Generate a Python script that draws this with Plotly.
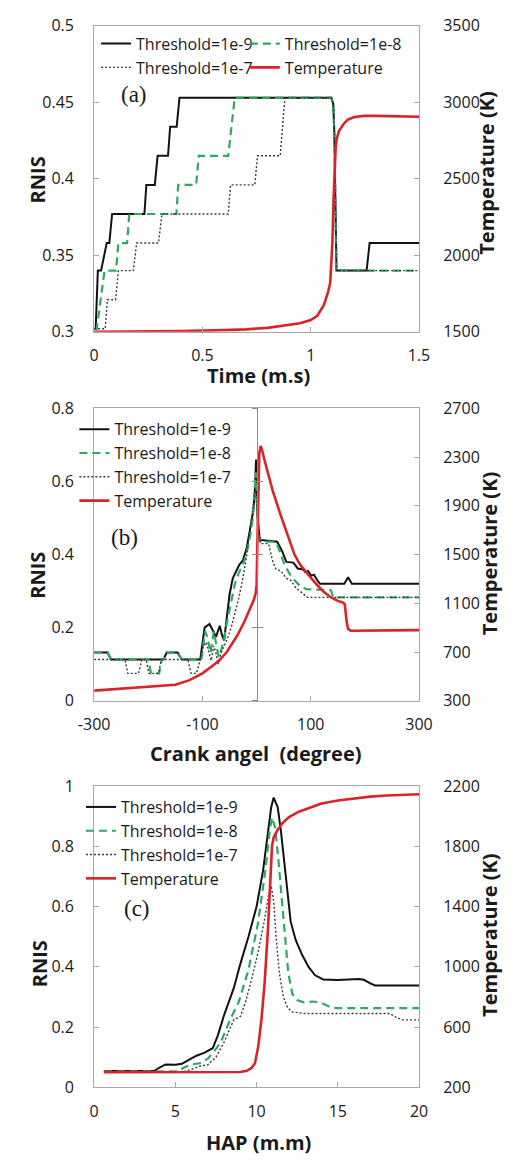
import plotly.graph_objects as go

# ---------------- Panel (a): Time (m.s) ----------------
a_t9 = [0, 0.007, 0.017, 0.032, 0.058, 0.07, 0.083, 0.232, 0.241, 0.28, 0.293, 0.341, 0.351, 0.381, 0.394, 1.094, 1.104, 1.109, 1.119, 1.258, 1.272, 1.5]
a_r9 = [0.302, 0.302, 0.340, 0.340, 0.358, 0.358, 0.377, 0.377, 0.396, 0.396, 0.415, 0.415, 0.434, 0.434, 0.453, 0.453, 0.449, 0.43, 0.340, 0.340, 0.358, 0.358]
a_t8 = [0, 0.012, 0.048, 0.101, 0.112, 0.152, 0.162, 0.38, 0.388, 0.471, 0.483, 0.619, 0.649, 1.096, 1.104, 1.109, 1.119, 1.5]
a_r8 = [0.302, 0.302, 0.340, 0.340, 0.358, 0.358, 0.377, 0.377, 0.396, 0.396, 0.415, 0.415, 0.453, 0.453, 0.449, 0.43, 0.340, 0.340]
a_t7 = [0, 0.051, 0.061, 0.099, 0.112, 0.181, 0.196, 0.297, 0.313, 0.619, 0.630, 0.742, 0.754, 0.859, 0.881, 1.096, 1.104, 1.109, 1.119, 1.5]
a_r7 = [0.302, 0.302, 0.321, 0.321, 0.340, 0.340, 0.358, 0.358, 0.377, 0.377, 0.396, 0.396, 0.415, 0.415, 0.453, 0.453, 0.449, 0.43, 0.340, 0.340]
a_tT = [0, 0.2, 0.4, 0.6, 0.7, 0.8, 0.9, 0.95, 1.0, 1.03, 1.06, 1.08, 1.09, 1.10, 1.105, 1.11, 1.115, 1.12, 1.13, 1.15, 1.17, 1.2, 1.25, 1.3, 1.4, 1.5]
a_T = [1500, 1502, 1505, 1511, 1516, 1526, 1543, 1556, 1577, 1605, 1673, 1760, 1820, 2080, 2350, 2600, 2700, 2760, 2810, 2855, 2885, 2903, 2912, 2911, 2908, 2905]

# ---------------- Panel (b): Crank angle (degree) ----------------
b_x9 = [-300, -275, -269, -172, -166, -146, -138, -104, -96, -87, -80, -75, -68, -64, -60, -55, -50, -44, -38, -32, -25, -18, -12, -6, -3, -1, 2, 6, 38, 47, 55, 68, 76, 85, 90, 95, 101, 106, 112, 117, 162, 169, 176, 300]
b_r9 = [0.132, 0.132, 0.113, 0.113, 0.132, 0.132, 0.113, 0.113, 0.2, 0.21, 0.19, 0.175, 0.205, 0.18, 0.165, 0.23, 0.29, 0.335, 0.355, 0.372, 0.385, 0.42, 0.47, 0.52, 0.58, 0.66, 0.5, 0.44, 0.435, 0.41, 0.38, 0.378, 0.362, 0.36, 0.352, 0.355, 0.342, 0.345, 0.33, 0.32, 0.32, 0.338, 0.32, 0.32]
b_x8 = [-300, -275, -269, -200, -195, -180, -175, -172, -166, -146, -138, -102, -95, -90, -85, -79, -74, -70, -65, -60, -54, -47, -40, -33, -26, -19, -12, -7, -3, -1.5, 1, 4, 8, 36, 45, 52, 62, 70, 80, 92, 137, 142, 300]
b_r8 = [0.132, 0.132, 0.113, 0.113, 0.075, 0.075, 0.113, 0.113, 0.132, 0.132, 0.113, 0.113, 0.19, 0.17, 0.13, 0.19, 0.15, 0.12, 0.14, 0.17, 0.22, 0.27, 0.32, 0.35, 0.37, 0.40, 0.45, 0.5, 0.58, 0.625, 0.52, 0.44, 0.435, 0.435, 0.40, 0.37, 0.345, 0.33, 0.315, 0.305, 0.303, 0.283, 0.283]
b_x7 = [-300, -243, -238, -218, -212, -204, -199, -181, -176, -127, -121, -111, -104, -98, -93, -88, -84, -79, -75, -71, -66, -60, -54, -47, -40, -33, -26, -19, -12, -6, -2, 1, 4, 8, 22, 30, 36, 45, 55, 63, 72, 80, 88, 94, 300]
b_r7 = [0.113, 0.113, 0.075, 0.075, 0.113, 0.113, 0.075, 0.075, 0.113, 0.113, 0.075, 0.075, 0.113, 0.15, 0.16, 0.13, 0.11, 0.15, 0.13, 0.10, 0.13, 0.15, 0.17, 0.2, 0.24, 0.28, 0.33, 0.39, 0.47, 0.53, 0.58, 0.52, 0.45, 0.43, 0.43, 0.38, 0.36, 0.355, 0.335, 0.33, 0.31, 0.30, 0.29, 0.283, 0.283]
b_xT = [-300, -250, -200, -150, -125, -100, -85, -70, -55, -45, -35, -22, -15, -8, -5, -1.5, 0, 1.5, 3, 5, 7.5, 10, 15, 20, 30, 44, 60, 70, 80, 90, 100, 114, 125, 137, 150, 160, 163, 166, 169, 174, 200, 250, 300]
b_T = [383, 398, 413, 431, 467, 525, 575, 625, 700, 767, 840, 955, 1030, 1090, 1129, 1186, 1250, 1600, 2100, 2330, 2391, 2360, 2270, 2180, 2020, 1830, 1620, 1500, 1420, 1360, 1310, 1240, 1190, 1150, 1120, 1105, 1090, 960, 890, 875, 876, 878, 880]
b_xtickvals = [-300, -100, 100, 300]
b_xticktext = ["-300", "-100", "100", "300"]

# ---------------- Panel (c): HAP (m.m) ----------------
c_x9 = [0.6, 3.7, 4.0, 4.4, 5.0, 5.4, 5.8, 6.3, 6.8, 7.3, 7.6, 8.0, 8.6, 9.0, 9.5, 10.0, 10.4, 10.7, 10.9, 11.05, 11.3, 11.5, 11.7, 11.9, 12.1, 12.4, 12.8, 13.2, 13.6, 14.1, 15.0, 16.3, 16.6, 17.0, 17.3, 18.0, 20.0]
c_r9 = [0.054, 0.054, 0.065, 0.076, 0.075, 0.078, 0.09, 0.105, 0.115, 0.13, 0.17, 0.24, 0.33, 0.41, 0.50, 0.60, 0.72, 0.85, 0.93, 0.962, 0.93, 0.85, 0.75, 0.65, 0.55, 0.49, 0.44, 0.40, 0.372, 0.358, 0.356, 0.36, 0.357, 0.345, 0.338, 0.338, 0.338]
c_x8 = [0.6, 5.2, 5.5, 6.0, 6.5, 7.0, 7.4, 7.8, 8.4, 8.9, 9.5, 10.08, 10.56, 10.8, 10.95, 11.15, 11.35, 11.55, 11.75, 11.95, 12.2, 12.5, 12.9, 13.5, 14.0, 14.6, 15.0, 20.0]
c_r8 = [0.053, 0.053, 0.065, 0.076, 0.08, 0.095, 0.12, 0.15, 0.228, 0.283, 0.39, 0.543, 0.728, 0.85, 0.897, 0.86, 0.75, 0.63, 0.5, 0.38, 0.31, 0.29, 0.282, 0.285, 0.28, 0.265, 0.263, 0.263]
c_x7 = [0.6, 5.5, 6.0, 6.5, 7.0, 7.5, 8.0, 8.4, 8.6, 9.0, 9.3, 9.7, 10.1, 10.5, 10.75, 10.9, 11.05, 11.2, 11.4, 11.65, 11.9, 12.2, 12.6, 13.0, 18.2, 18.6, 19.0, 20.0]
c_r7 = [0.052, 0.052, 0.06, 0.07, 0.075, 0.1, 0.15, 0.2, 0.225, 0.235, 0.28, 0.36, 0.45, 0.56, 0.64, 0.668, 0.62, 0.5, 0.38, 0.3, 0.265, 0.25, 0.247, 0.245, 0.245, 0.232, 0.224, 0.224]
c_xT = [0.6, 5, 8, 9.0, 9.4, 9.7, 9.9, 10.1, 10.3, 10.5, 10.7, 10.85, 10.95, 11.05, 11.3, 11.6, 12.0, 12.6, 13.3, 14.0, 15.0, 16.0, 17.0, 18.0, 19.0, 20.0]
c_T = [300, 300, 300, 302, 310, 330, 360, 470, 650, 900, 1250, 1600, 1800, 1860, 1910, 1955, 1995, 2030, 2060, 2085, 2105, 2120, 2130, 2138, 2143, 2146]

names = ["Threshold=1e-9", "Threshold=1e-8", "Threshold=1e-7", "Temperature"]

# ---------------- styling ----------------
W, H = 514, 1168
BLACK = "#111111"
GREEN = "#2fa862"
DOT = "#3a3a3a"
RED = "#d9232a"
FRAME = "#a8a8a8"
TXT = "#1a1a1a"
FONT = "Open Sans"

def X(p):
    return p / W

def Y(p):
    return 1 - p / H

xdom = [X(83), X(428)]
doms = {"a": [Y(327), Y(15)], "b": [Y(703), Y(405)], "c": [Y(1097), Y(790)]}

styles = [
    dict(color=BLACK, width=2),
    dict(color=GREEN, width=2.2, dash="8px,5px"),
    dict(color=DOT, width=1.4, dash="2px,2px"),
    dict(color=RED, width=2.6),
]

fig = go.Figure()

def add_panel(xs, ys, xaxis, yl, yr, legends):
    for i in range(4):
        fig.add_trace(go.Scatter(
            x=xs[i], y=ys[i], mode="lines", name=names[i],
            line=styles[i], xaxis=xaxis, yaxis=(yr if i == 3 else yl),
            legend=legends[i], showlegend=True))

add_panel([a_t9, a_t8, a_t7, a_tT], [a_r9, a_r8, a_r7, a_T], "x", "y", "y2",
          ["legend", "legend2", "legend", "legend2"])
add_panel([b_x9, b_x8, b_x7, b_xT], [b_r9, b_r8, b_r7, b_T], "x2", "y3", "y4",
          ["legend3"] * 4)
add_panel([c_x9, c_x8, c_x7, c_xT], [c_r9, c_r8, c_r7, c_T], "x3", "y5", "y6",
          ["legend4"] * 4)

# dummy traces so the centre axes of panel (b) are drawn
for ya in ["y7", "y8"]:
    fig.add_trace(go.Scatter(x=[None], y=[None], xaxis="x2", yaxis=ya, showlegend=False,
                             hoverinfo="skip"))

tickfont = dict(family=FONT, size=16, color=TXT)

def xax(anchor, rng, dtick, tick0=0):
    return dict(domain=xdom, anchor=anchor, range=rng, dtick=dtick, tick0=tick0,
                showline=True, linecolor=FRAME, linewidth=1, mirror=True,
                ticks="inside", ticklen=5, tickcolor=FRAME, showgrid=False,
                zeroline=False, tickfont=tickfont, ticklabelstandoff=9)

def yax(dom, anchor, rng, dtick, tick0=0, side="left", overlaying=None, ticks="inside"):
    d = dict(domain=dom, anchor=anchor, range=rng, dtick=dtick, tick0=tick0, side=side,
             showline=True, linecolor=FRAME, linewidth=1,
             ticks=ticks, ticklen=5, tickcolor=FRAME, showgrid=False,
             zeroline=False, tickfont=tickfont,
             ticklabelstandoff=(16 if side == "left" else 20))
    if overlaying:
        d["overlaying"] = overlaying
    return d

xb = xax("y3", [-300, 300], 200, tick0=-300)
xb.update(tickmode="array", tickvals=b_xtickvals, ticktext=b_xticktext)

layout = dict(
    width=W, height=H, margin=dict(l=0, r=0, t=0, b=0),
    paper_bgcolor="white", plot_bgcolor="white",
    xaxis=xax("y", [0, 1.5], 0.5),
    yaxis=yax(doms["a"], "x", [0.3, 0.5], 0.05),
    yaxis2=yax(doms["a"], "x", [1500, 3500], 500, side="right", overlaying="y"),
    xaxis2=xb,
    yaxis3=yax(doms["b"], "x2", [0, 0.8], 0.2, ticks=""),
    yaxis4=yax(doms["b"], "x2", [300, 2700], 400, tick0=300, side="right", overlaying="y3"),
    xaxis3=xax("y5", [0, 20], 5),
    yaxis5=yax(doms["c"], "x3", [0, 1], 0.2),
    yaxis6=yax(doms["c"], "x3", [200, 2200], 400, tick0=200, side="right", overlaying="y5"),
)
center = (xdom[0] + xdom[1]) / 2
for name, tk in [("yaxis7", "outside"), ("yaxis8", "inside")]:
    layout[name] = dict(domain=doms["b"], anchor="free", position=center, overlaying="y3",
                        range=[0, 0.8], dtick=0.2, showline=True, linecolor="#8c8c8c",
                        linewidth=1, ticks=tk, ticklen=5, tickcolor="#8c8c8c",
                        showticklabels=False, showgrid=False, zeroline=False)

legfont = dict(family=FONT, size=16, color=TXT)
def leg(xp, yp):
    return dict(x=X(xp), y=Y(yp), xanchor="left", yanchor="top", xref="paper", yref="paper",
                bgcolor="rgba(0,0,0,0)", borderwidth=0, font=legfont,
                orientation="v", traceorder="normal", itemwidth=30, tracegroupgap=0)

layout["legend"] = leg(85, 16)
layout["legend2"] = leg(243, 16)
layout["legend3"] = leg(62, 409)
layout["legend4"] = leg(69, 794)

fig.update_layout(**layout)

ann = []
def title(text, xp, yp, angle=0, size=20):
    ann.append(dict(text="<b>" + text + "</b>", x=X(xp), y=Y(yp), xref="paper", yref="paper",
                    showarrow=False, textangle=angle, xanchor="center", yanchor="middle",
                    font=dict(family=FONT, size=size, color=TXT)))

title("RNIS", 23, 172, -90)
title("Temperature (K)", 500, 165, -90)
title("Time (m.s)", 257, 372)
title("RNIS", 23, 575, -90)
title("Temperature (K)", 503, 553, -90)
title("Crank angel\u00a0 (degree)", 255, 757)
title("RNIS", 25, 971, -90)
title("Temperature (K)", 503, 942, -90)
title("HAP (m.m)", 257, 1153)

for lab, xp, yp in [("(a)", 125, 85), ("(b)", 115, 537), ("(c)", 128, 915)]:
    ann.append(dict(text=lab, x=X(xp), y=Y(yp), xref="paper", yref="paper", showarrow=False,
                    xanchor="center", yanchor="middle",
                    font=dict(family="Liberation Serif", size=23, color=TXT)))

fig.update_layout(annotations=ann)
fig.write_html("out.html",
               post_script="document.body.style.margin='0';document.body.style.overflow='hidden';")
